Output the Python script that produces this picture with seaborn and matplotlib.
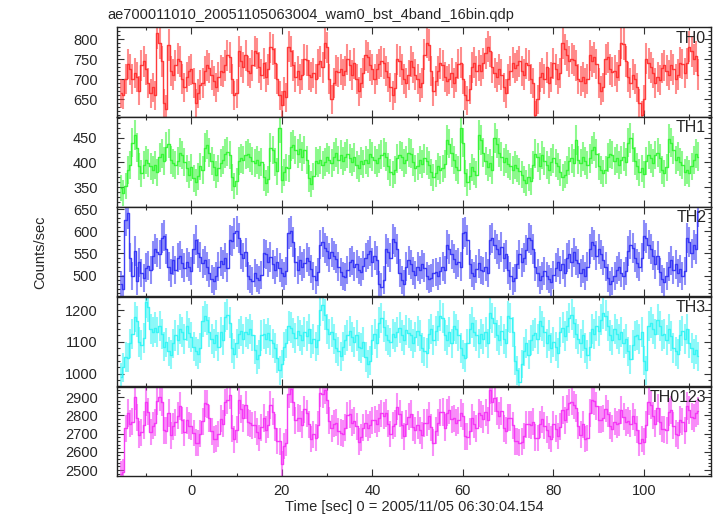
import warnings
warnings.filterwarnings("ignore")

import matplotlib
matplotlib.use("Agg")
import matplotlib.pyplot as plt
from matplotlib.ticker import MultipleLocator
import numpy as np
import pandas as pd
import seaborn as sns


TITLE = "ae700011010_20051105063004_wam0_bst_4band_16bin.qdp"
XLABEL = "Time [sec] 0 = 2005/11/05 06:30:04.154"
YLABEL = "Counts/sec"

T_START = -15.5
BIN_SEC = 0.5

# count rates per 0.5 s bin (16 bins = 8 s per line)
th0 = [
    665, 662, 700, 738, 725, 700, 715, 705, 672, 735, 745, 725, 690, 665, 680, 660,
    815, 790, 745, 640, 625, 785, 720, 712, 735, 752, 745, 700, 680, 705, 720, 725,
    690, 640, 665, 685, 690, 720, 735, 728, 710, 695, 680, 705, 722, 718, 735, 760,
    755, 700, 660, 665, 770, 745, 730, 760, 720, 715, 735, 770, 765, 730, 712, 740,
    705, 725, 780, 775, 740, 700, 660, 635, 670, 655, 782, 770, 735, 705, 720, 700,
    712, 750, 748, 710, 705, 715, 700, 738, 745, 730, 790, 780, 700, 650, 690, 722,
    718, 725, 712, 720, 750, 735, 710, 740, 700, 670, 690, 715, 760, 755, 735, 725,
    700, 725, 738, 745, 740, 720, 705, 680, 660, 678, 750, 745, 725, 700, 690, 710,
    745, 730, 712, 700, 680, 690, 762, 792, 785, 720, 670, 695, 720, 740, 735, 705,
    695, 700, 715, 690, 705, 738, 742, 700, 660, 648, 675, 730, 742, 720, 735, 722,
    740, 765, 782, 770, 730, 715, 705, 725, 712, 680, 665, 700, 720, 742, 728, 735,
    745, 720, 712, 740, 735, 700, 690, 612, 650, 705, 715, 700, 730, 690, 705, 740,
    725, 700, 715, 790, 775, 760, 745, 752, 748, 735, 700, 695, 705, 690, 700, 760,
    745, 755, 738, 690, 672, 680, 750, 755, 725, 718, 722, 705, 735, 790, 788, 745,
    705, 690, 712, 700, 680, 640, 612, 650, 752, 740, 730, 715, 690, 705, 698, 728,
    735, 722, 710, 735, 725, 700, 712, 742, 738, 715, 740, 782, 770, 750, 758, 712,
]
th1 = [
    348, 338, 352, 385, 395, 440, 455, 430, 392, 378, 395, 405, 398, 392, 385, 395,
    380, 410, 418, 402, 432, 438, 405, 398, 395, 402, 420, 415, 400, 388, 375, 390,
    368, 360, 372, 392, 385, 430, 436, 420, 402, 390, 375, 388, 398, 405, 418, 422,
    415, 370, 352, 362, 402, 408, 405, 415, 418, 410, 402, 398, 405, 395, 400, 370,
    358, 366, 430, 425, 400, 382, 470, 365, 380, 390, 388, 432, 436, 425, 418, 428,
    412, 425, 405, 368, 356, 372, 402, 398, 405, 395, 400, 410, 405, 398, 412, 420,
    405, 416, 402, 412, 418, 408, 400, 410, 395, 388, 402, 396, 405, 398, 418, 412,
    405, 398, 408, 416, 420, 412, 392, 380, 376, 385, 408, 415, 412, 398, 405, 420,
    418, 400, 388, 392, 405, 396, 408, 402, 395, 380, 370, 378, 392, 385, 388, 396,
    445, 438, 420, 405, 390, 385, 470, 440, 378, 360, 372, 390, 382, 375, 455, 445,
    420, 402, 390, 398, 385, 450, 438, 420, 412, 400, 408, 396, 392, 385, 395, 388,
    382, 375, 365, 358, 370, 362, 395, 418, 410, 392, 415, 402, 395, 385, 400, 408,
    398, 392, 380, 370, 375, 385, 402, 408, 398, 445, 405, 398, 412, 402, 395, 408,
    425, 432, 418, 392, 385, 378, 385, 410, 418, 415, 402, 408, 395, 405, 412, 400,
    440, 450, 430, 402, 392, 380, 388, 376, 402, 415, 408, 398, 415, 420, 408, 385,
    378, 390, 448, 440, 425, 405, 412, 400, 395, 380, 385, 378, 392, 405, 418, 412,
]
th2 = [
    480, 470, 625, 640, 540, 500, 555, 488, 530, 505, 495, 518, 522, 512, 545, 560,
    552, 548, 585, 590, 560, 520, 505, 535, 512, 540, 545, 528, 518, 530, 520, 510,
    560, 580, 550, 542, 528, 535, 520, 505, 492, 488, 498, 520, 532, 525, 540, 518,
    580, 578, 595, 600, 585, 548, 540, 552, 500, 492, 488, 505, 495, 490, 502, 550,
    548, 530, 542, 525, 512, 530, 518, 505, 498, 510, 595, 600, 575, 530, 512, 535,
    520, 528, 540, 532, 515, 498, 490, 508, 570, 575, 562, 555, 540, 552, 545, 538,
    520, 508, 500, 496, 512, 530, 535, 520, 526, 512, 508, 522, 540, 548, 555, 530,
    545, 535, 480, 475, 490, 560, 552, 540, 582, 575, 560, 505, 490, 482, 520, 535,
    525, 510, 502, 520, 512, 525, 518, 500, 492, 495, 505, 508, 498, 510, 520, 512,
    570, 560, 548, 538, 525, 530, 520, 595, 598, 580, 525, 505, 498, 515, 528, 512,
    510, 520, 505, 580, 585, 570, 560, 548, 565, 540, 548, 512, 500, 488, 495, 525,
    548, 530, 540, 558, 585, 580, 560, 520, 505, 490, 498, 510, 500, 492, 485, 502,
    518, 530, 512, 525, 505, 540, 548, 530, 552, 535, 528, 505, 515, 498, 520, 560,
    575, 568, 545, 560, 548, 535, 520, 495, 480, 488, 500, 512, 520, 505, 498, 510,
    555, 570, 562, 540, 528, 520, 540, 590, 585, 570, 560, 545, 525, 545, 508, 492,
    485, 500, 520, 535, 512, 525, 505, 515, 498, 510, 585, 575, 550, 568, 560, 645,
]
th3 = [
    988, 1020, 1052, 1050, 1095, 1125, 1178, 1165, 1100, 1090, 1112, 1225, 1210, 1140, 1132, 1145,
    1130, 1150, 1125, 1085, 1098, 1070, 1060, 1095, 1120, 1105, 1140, 1130, 1110, 1150, 1128, 1115,
    1085, 1070, 1062, 1080, 1165, 1180, 1170, 1130, 1108, 1095, 1120, 1085, 1130, 1105, 1178, 1185,
    1160, 1080, 1062, 1095, 1125, 1135, 1110, 1130, 1125, 1140, 1120, 1075, 1045, 1060, 1120, 1125,
    1110, 1128, 1105, 1095, 1080, 1048, 1010, 1030, 1085, 1095, 1150, 1145, 1128, 1112, 1135, 1120,
    1105, 1130, 1118, 1140, 1095, 1110, 1085, 1105, 1200, 1215, 1185, 1140, 1125, 1130, 1108, 1080,
    1070, 1055, 1085, 1105, 1120, 1135, 1115, 1100, 1120, 1085, 1080, 1100, 1052, 1030, 1040, 1105,
    1125, 1095, 1160, 1175, 1148, 1120, 1105, 1098, 1125, 1115, 1130, 1145, 1120, 1105, 1138, 1128,
    1120, 1095, 1115, 1135, 1120, 1080, 1070, 1065, 1125, 1140, 1105, 1135, 1150, 1182, 1175, 1120,
    1105, 1130, 1095, 1150, 1140, 1120, 1080, 1060, 1050, 1095, 1140, 1160, 1130, 1120, 1095, 1125,
    1110, 1130, 1095, 1190, 1175, 1160, 1120, 1105, 1135, 1110, 1095, 1180, 1175, 1130, 1040, 1010,
    975, 1030, 1070, 1095, 1060, 1105, 1120, 1128, 1110, 1165, 1150, 1130, 1095, 1120, 1080, 1100,
    1085, 1065, 1130, 1145, 1118, 1150, 1175, 1185, 1160, 1125, 1110, 1095, 1120, 1080, 1060, 1085,
    1140, 1125, 1150, 1135, 1170, 1190, 1182, 1150, 1120, 1105, 1140, 1125, 1110, 1130, 1095, 1108,
    1070, 1045, 1090, 1118, 1122, 1108, 1130, 1040, 1010, 1150, 1160, 1140, 1125, 1170, 1150, 1120,
    1125, 1105, 1140, 1118, 1080, 1070, 1062, 1120, 1135, 1110, 1140, 1095, 1080, 1062, 1075, 1055,
]

BANDS = ["TH0", "TH1", "TH2", "TH3", "TH0123"]
COLORS = ["#ff3030", "#33f533", "#3333f5", "#33f5f5", "#f533f5"]
YLIMS = [(606, 830), (311, 492), (453, 655), (960, 1242), (2467, 2958)]
YMAJOR = [50, 50, 50, 100, 100]
YMINOR = [10, 10, 10, 20, 20]


def build_frame():
    rates = [np.array(v, dtype=float) for v in (th0, th1, th2, th3)]
    rates.append(rates[0] + rates[1] + rates[2] + rates[3])
    frames = []
    for band, r in zip(BANDS, rates):
        t = T_START + BIN_SEC * np.arange(len(r))
        frames.append(pd.DataFrame({"time": t, "rate": r,
                                    "err": np.sqrt(r / BIN_SEC), "band": band}))
    return pd.concat(frames, ignore_index=True)


sns.set_style("white")
plt.rcParams["font.family"] = ["Liberation Sans", "DejaVu Sans"]
plt.rcParams["font.size"] = 10.5

df = build_frame()

W, H = 717, 516
fig = plt.figure(figsize=(W / 100, H / 100), dpi=100)
left, right = 117, 711
tops = [27.3, 116.9, 206.8, 296.7, 386.5]
ph = 89.6

axes = []
for i, band in enumerate(BANDS):
    ax = fig.add_axes([left / W, 1 - (tops[i] + ph) / H, (right - left) / W, ph / H])
    d = df.loc[df["band"] == band]
    ax.errorbar(d["time"], d["rate"], yerr=d["err"], fmt="none",
                ecolor=COLORS[i], elinewidth=1.5, alpha=0.55, capsize=0)
    sns.lineplot(data=d, x="time", y="rate", ax=ax, color=COLORS[i],
                 drawstyle="steps-mid", lw=1.0, alpha=0.95, errorbar=None)
    ax.set_xlim(-16.4, 114.8)
    ax.set_ylim(*YLIMS[i])
    ax.xaxis.set_major_locator(MultipleLocator(20))
    ax.xaxis.set_minor_locator(MultipleLocator(10))
    ax.yaxis.set_major_locator(MultipleLocator(YMAJOR[i]))
    ax.yaxis.set_minor_locator(MultipleLocator(YMINOR[i]))
    ax.tick_params(which="both", direction="in", top=True, right=True,
                   bottom=True, left=True, color="#333333", width=0.8)
    ax.tick_params(which="major", length=5)
    ax.tick_params(which="minor", length=2.5)
    ax.tick_params(axis="y", pad=14, labelsize=10.5)
    ax.tick_params(axis="x", pad=6, labelsize=10.5)
    ax.set_xlabel("")
    ax.set_ylabel("")
    for s in ax.spines.values():
        s.set_color("#222222")
        s.set_linewidth(1.0)
    if i < len(BANDS) - 1:
        ax.tick_params(labelbottom=False)
    ax.text(0.992, 0.96, band, transform=ax.transAxes, ha="right", va="top",
            fontsize=11.5)
    axes.append(ax)

fig.text(107 / W, 1 - 19 / H, TITLE, ha="left", va="baseline", fontsize=10.5)
fig.text((left + right) / 2 / W, 1 - 511 / H, XLABEL, ha="center",
         va="baseline", fontsize=10.5)
fig.text(40 / W, 1 - 252 / H, YLABEL, ha="center", va="center",
         rotation=90, fontsize=10.5)

fig.savefig("out.png", dpi=100)
plt.close(fig)
